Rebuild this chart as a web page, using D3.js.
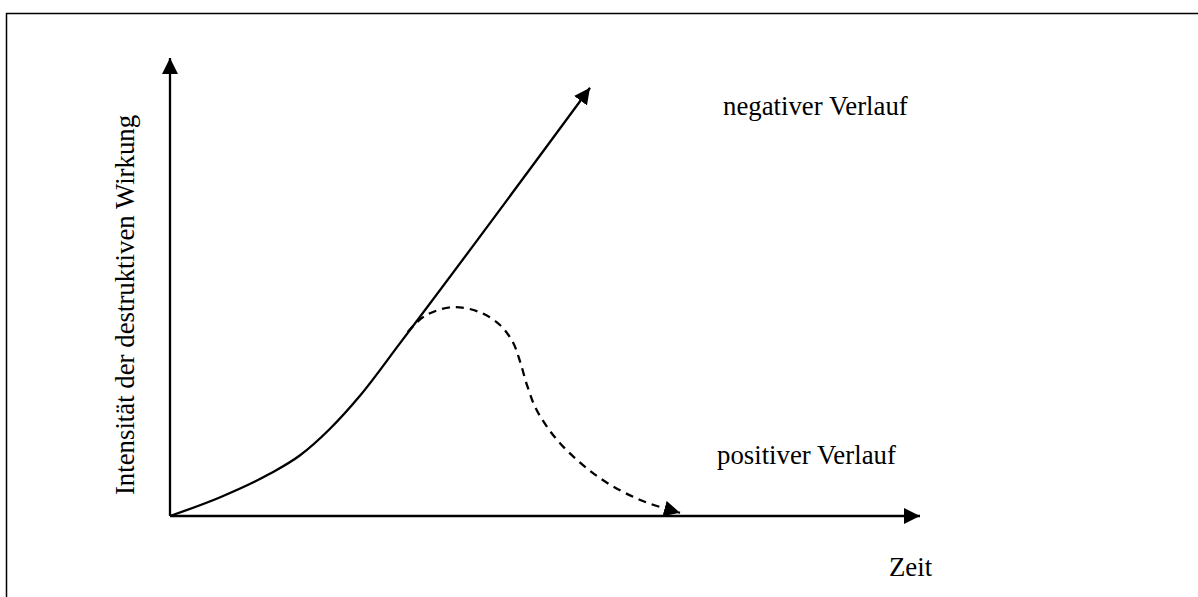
<!DOCTYPE html>
<html>
<head>
<meta charset="utf-8">
<script src="https://cdn.jsdelivr.net/npm/d3@7"></script>
<style>
  html, body { margin: 0; padding: 0; background: #fff; }
  svg { display: block; }
  text { font-family: "Liberation Serif", "Times New Roman", serif; fill: #000; }
</style>
</head>
<body>
<svg id="chart" width="1198" height="597"></svg>
<script>
// Data (abstract units: time vs. intensity, 0..10)
const negativeX = [0, 0.67, 1.33, 1.73, 2.13, 2.53, 3.07, 5.6];
const negativeY = [0, 0.41, 0.92, 1.32, 1.9, 2.62, 3.78, 9.35];
const positiveX = [3.17, 3.4, 3.77, 4.13, 4.4, 4.57, 4.67, 4.76, 4.89, 5.2, 5.73, 6.27, 6.8];
const positiveY = [4.02, 4.37, 4.56, 4.45, 4.17, 3.8, 3.36, 2.86, 2.31, 1.59, 0.83, 0.35, 0.07];
const labels = {
  yAxis: "Intensität der destruktiven Wirkung",
  xAxis: "Zeit",
  negative: "negativer Verlauf",
  positive: "positiver Verlauf"
};

const svg = d3.select("#chart");
const x = d3.scaleLinear().domain([0, 10]).range([170, 920]);
const y = d3.scaleLinear().domain([0, 10]).range([516, 58]);

// Frame
svg.append("rect").attr("x", 6.5).attr("y", 13.5).attr("width", 1400).attr("height", 800)
  .attr("fill", "none").attr("stroke", "#000").attr("stroke-width", 1.5);

const defs = svg.append("defs");
defs.append("marker").attr("id", "arrow")
  .attr("viewBox", "0 0 16 16").attr("refX", 16).attr("refY", 8)
  .attr("markerWidth", 16).attr("markerHeight", 16)
  .attr("markerUnits", "userSpaceOnUse").attr("orient", "auto")
  .append("path").attr("d", "M0,0 L16,8 L0,16 Z").attr("fill", "#000");

// Axes
svg.append("line").attr("x1", x(0)).attr("y1", y(0)).attr("x2", x(0)).attr("y2", y(10))
  .attr("stroke", "#000").attr("stroke-width", 2.3).attr("marker-end", "url(#arrow)");
svg.append("line").attr("x1", x(0)).attr("y1", y(0)).attr("x2", x(10)).attr("y2", y(0))
  .attr("stroke", "#000").attr("stroke-width", 2.3).attr("marker-end", "url(#arrow)");

const smooth = d3.line().x(d => x(d[0])).y(d => y(d[1])).curve(d3.curveMonotoneX);
const line = d3.line().x(d => x(d[0])).y(d => y(d[1])).curve(d3.curveCatmullRom.alpha(0.5));

svg.append("path").datum(d3.zip(negativeX, negativeY))
  .attr("d", smooth).attr("fill", "none").attr("stroke", "#000").attr("stroke-width", 2.3)
  .attr("marker-end", "url(#arrow)");

svg.append("path").datum(d3.zip(positiveX, positiveY))
  .attr("d", line).attr("fill", "none").attr("stroke", "#000").attr("stroke-width", 2.3)
  .attr("stroke-dasharray", "8,6")
  .attr("marker-end", "url(#arrow)");

// Text
svg.append("text").attr("transform", "translate(134,305) rotate(-90)")
  .attr("text-anchor", "middle").attr("font-size", 26.8).text(labels.yAxis);
svg.append("text").attr("x", 889).attr("y", 576).attr("font-size", 26.8).text(labels.xAxis);
svg.append("text").attr("x", 723).attr("y", 115).attr("font-size", 26.8).text(labels.negative);
svg.append("text").attr("x", 717).attr("y", 464).attr("font-size", 26.8).text(labels.positive);
</script>
</body>
</html>
